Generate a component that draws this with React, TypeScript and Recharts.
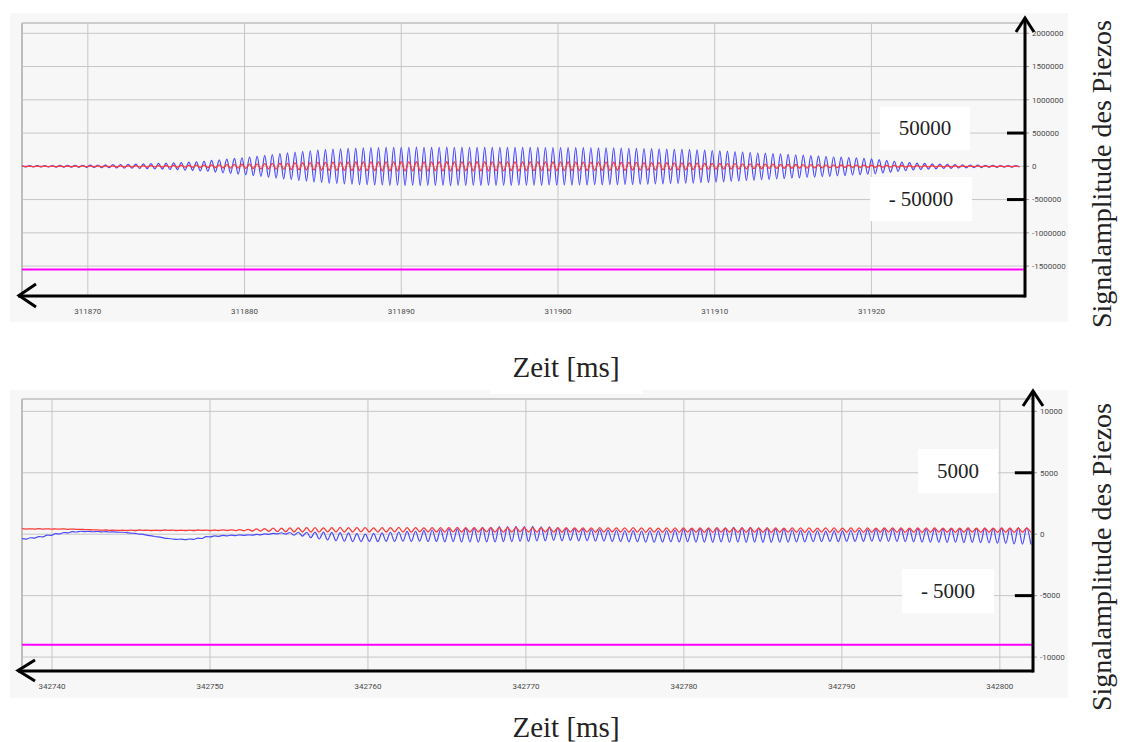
import React from 'react';
import { LineChart, Line, XAxis, YAxis, CartesianGrid, ReferenceLine } from 'recharts';

// --- upper recording (values in thousands) ---
const topStart = 311865.8;
const topHalfPeriod = 0.242;
const topUnit = 1000;
const topXTicks = [311870, 311880, 311890, 311900, 311910, 311920];
const topYTicks = [-1500000, -1000000, -500000, 0, 500000, 1000000, 1500000, 2000000];
const topMagenta = -1550000;

const topBluePeaks = [
  8, 9, 10, 11, 12, 13, 14, 15, 16,
  18, 20, 22, 24, 27, 30, 33, 36, 39,
  43, 47, 52, 57, 62, 68, 75,
  88, 97, 107, 118, 129, 140, 152, 165, 178,
  190, 202, 213, 224, 234, 243, 251, 258, 264, 270,
  274, 278, 281, 283, 285, 286, 287, 287, 288, 287, 286, 287, 288, 287, 286, 287, 286, 285, 286, 287, 286, 285,
  284, 285, 284, 283, 282, 283, 282, 281, 280, 279, 278, 277, 276, 274, 272, 270, 268, 266, 263, 260, 257, 254,
  251, 247, 243, 238, 233, 228, 222, 216, 210, 204,
  198, 192, 186, 180, 174, 168, 162, 156, 150,
  144, 138, 132, 126, 119, 112,
  100, 88, 76, 64,
  56, 49, 43, 38, 33, 29, 26,
  23, 20, 18, 16, 14, 12, 11, 10,
];
const topBlueTroughs = [
  -7, -9, -10, -10, -12, -12, -14, -15, -15,
  -17, -20, -21, -25, -27, -29, -33, -35, -40,
  -42, -48, -51, -58, -61, -69, -74,
  -86, -98, -106, -119, -128, -141, -151, -166, -177,
  -191, -201, -214, -223, -235, -242, -252, -257, -265, -269,
  -275, -277, -282, -282, -286, -285, -288, -286, -289, -286, -287, -286, -289, -286, -287, -286, -287, -284, -287, -286, -287, -284,
  -285, -284, -285, -282, -283, -282, -283, -280, -281, -278, -279, -276, -277, -273, -273, -269, -269, -265, -264, -259, -258, -253,
  -252, -246, -244, -237, -234, -227, -223, -215, -211, -203,
  -199, -191, -187, -179, -175, -167, -163, -155, -151,
  -143, -139, -131, -127, -118, -113,
  -99, -89, -75, -65,
  -55, -50, -42, -39, -32, -30, -25,
  -24, -19, -19, -15, -15, -11, -12, -9,
];
const topRedPeaks = [
  3, 3, 4, 4, 4, 5, 5, 5, 6,
  6, 6, 7, 7, 8, 8, 9, 9, 10,
  11, 12, 13, 14, 15, 17, 19,
  21, 23, 25, 28, 31, 34, 37, 40, 43,
  46, 49, 52, 54, 56, 58, 60, 62, 63, 64,
  65, 66, 67, 67, 68, 68, 69, 68, 69, 68, 67, 68, 69, 68, 67, 68, 69, 68, 67, 68, 67, 68,
  67, 66, 67, 66, 65, 66, 65, 64, 64, 63, 62, 62, 61, 60, 59, 58, 57, 56, 55, 54, 53, 52,
  50, 48, 46, 44, 42, 41, 40, 38, 36, 35,
  33, 32, 30, 29, 27, 26, 25, 24, 22,
  21, 20, 19, 18, 17, 16,
  15, 14, 13, 12,
  11, 10, 9, 9, 8, 8, 7,
  7, 6, 6, 5, 5, 5, 4, 4,
];
const topRedTroughs = [
  -3, -4, -3, -4, -5, -4, -5, -6, -5,
  -6, -7, -6, -8, -7, -9, -8, -10, -9,
  -11, -12, -14, -13, -16, -16, -19,
  -20, -23, -26, -27, -31, -33, -37, -39, -43,
  -45, -49, -51, -54, -55, -58, -59, -62, -62, -64,
  -64, -66, -66, -67, -67, -68, -68, -68, -68, -68, -66, -68, -68, -68, -66, -68, -68, -68, -66, -68, -66, -68,
  -66, -66, -66, -66, -64, -66, -64, -64, -63, -63, -61, -62, -60, -60, -58, -58, -56, -56, -54, -54, -52, -52,
  -49, -48, -45, -44, -41, -41, -39, -38, -35, -35,
  -32, -32, -29, -29, -26, -26, -24, -24, -21,
  -21, -19, -19, -17, -17, -15,
  -15, -13, -13, -11,
  -11, -9, -9, -8, -8, -7, -7,
  -6, -6, -5, -5, -5, -4, -4, -3,
];

// --- lower recording ---
const bottomStart = 342738.1;
const bottomHalfPeriod = 0.265;
const bottomUnit = 1;
const bottomXTicks = [342740, 342750, 342760, 342770, 342780, 342790, 342800];
const bottomYTicks = [-10000, -5000, 0, 5000, 10000];
const bottomMagenta = -9000;

const bottomBluePeaks = [
  -360, -290, -190, -70, 40, 140, 210, 240, 230, 220,
  210, 190, 160, 90, 10, -100, -210, -320, -390, -400,
  -390, -320, -190, -140, -100, -80, -60, -50, -20, 20,
  60, 120, 140, 160, 160, 170, 170, 150, 130, 100,
  40, 10, 70, 100, 160, 180, 230, 240, 290, 340,
  380, 430, 440, 490, 500, 560, 560, 610, 620, 640,
  620, 640, 600, 590, 510, 480, 430, 420, 370, 370,
  330, 320, 280, 290, 260, 280, 270, 300, 330, 410,
  420, 450, 450, 510, 520, 560, 540, 560, 520, 510,
  440, 410, 340, 310, 260, 280, 250, 270, 270, 300,
  310, 370, 390, 440, 430, 450, 440, 450, 420, 440,
  430, 460, 450, 480, 470, 490, 470, 500, 490, 530,
  520,
];
const bottomBlueTroughs = [
  -400, -320, -220, -100, 20, 110, 180, 210, 200, 190,
  180, 160, 130, 60, -20, -130, -240, -350, -420, -440,
  -420, -350, -220, -170, -130, -110, -90, -80, -50, -10,
  30, 0, -80, -160, -280, -390, -470, -530, -570, -600,
  -600, -590, -600, -580, -590, -570, -590, -570, -600, -590,
  -620, -600, -630, -620, -650, -620, -630, -600, -610, -570,
  -590, -550, -540, -510, -530, -510, -540, -530, -560, -550,
  -590, -590, -620, -620, -640, -650, -640, -620, -630, -600,
  -640, -640, -660, -630, -650, -640, -660, -640, -660, -650,
  -650, -640, -630, -620, -600, -600, -590, -600, -580, -590,
  -580, -570, -580, -590, -590, -610, -620, -640, -650, -650,
  -670, -650, -680, -660, -690, -700, -730, -740, -790, -800,
  -830, -810, -850, -860, -900, -950,
];
const bottomRedPeaks = [
  450, 440, 450, 440, 430, 440, 420, 400, 370, 350,
  340, 330, 320, 330, 340, 330, 320, 340, 330, 320,
  330, 340, 330, 340, 350, 360, 380, 400, 430, 460,
  490, 500, 510, 520, 530, 540, 520, 530, 550, 540,
  530, 540, 520, 530, 540, 550, 530, 540, 520, 530,
  540, 530, 550, 540, 530, 520, 540, 530, 540, 550,
  540, 530, 520, 530, 540, 530, 520, 510, 520, 530,
  520, 510, 520, 530, 520, 510, 500, 510, 520, 510,
  500, 510, 520, 510, 500, 510, 520, 510, 500, 520,
  510, 500, 510, 520, 510, 500, 520, 510, 500, 510,
  520, 510, 500, 510, 520, 510, 500, 510, 520, 510,
  500, 490, 500, 510, 500, 490, 500, 510, 500, 490,
  500,
];
const bottomRedTroughs = [
  420, 420, 410, 420, 410, 400, 400, 380, 350, 330,
  310, 300, 300, 300, 310, 300, 300, 310, 300, 300,
  300, 310, 300, 300, 300, 290, 280, 260, 250, 230,
  210, 190, 180, 180, 180, 170, 190, 180, 170, 180,
  190, 180, 170, 180, 190, 180, 170, 190, 180, 170,
  180, 190, 180, 170, 180, 190, 180, 170, 180, 190,
  180, 170, 180, 170, 160, 170, 180, 170, 160, 170,
  180, 170, 160, 170, 160, 170, 160, 150, 160, 170,
  160, 150, 160, 170, 160, 150, 160, 170, 160, 150,
  160, 170, 160, 150, 160, 170, 160, 150, 160, 170,
  160, 150, 160, 170, 160, 150, 160, 150, 160, 170,
  160, 150, 160, 170, 150, 160, 150, 160, 150, 160,
  150,
];

type Row = { t: number; blue?: number; red?: number };

function buildRows(
  start: number,
  half: number,
  unit: number,
  bluePeaks: number[],
  blueTroughs: number[],
  redPeaks: number[],
  redTroughs: number[],
): Row[] {
  const rows: Row[] = [];
  bluePeaks.forEach((bp, i) => {
    rows.push({ t: start + 2 * i * half, blue: bp * unit, red: (redPeaks[i] ?? 0) * unit });
    if (blueTroughs[i] !== undefined) {
      rows.push({
        t: start + (2 * i + 1) * half,
        blue: blueTroughs[i] * unit,
        red: (redTroughs[i] ?? 0) * unit,
      });
    }
  });
  return rows;
}

const topRows = buildRows(topStart, topHalfPeriod, topUnit, topBluePeaks, topBlueTroughs, topRedPeaks, topRedTroughs);
const bottomRows = buildRows(
  bottomStart,
  bottomHalfPeriod,
  bottomUnit,
  bottomBluePeaks,
  bottomBlueTroughs,
  bottomRedPeaks,
  bottomRedTroughs,
);

const tickStyle = { fill: '#4a4a4a', fontSize: 8, fontFamily: 'Roboto, sans-serif' };
const serif = '"Liberation Serif", "DejaVu Serif", serif';

interface PanelProps {
  rows: Row[];
  top: number;
  height: number;
  marginTop: number;
  xAxisHeight: number;
  yAxisWidth: number;
  xDomain: [number, number];
  yDomain: [number, number];
  xTicks: number[];
  yTicks: number[];
  magenta: number;
  markFrom: number;
  markValue: number;
}

function Panel(p: PanelProps) {
  return (
    <div style={{ position: 'absolute', left: 10, top: p.top, width: 1058, height: p.height, background: '#f7f7f7' }}>
      <LineChart
        width={1058}
        height={p.height}
        data={p.rows}
        margin={{ top: p.marginTop, right: 0, bottom: 0, left: 12 }}
      >
        <CartesianGrid stroke="#c6c6c6" strokeWidth={1} />
        <XAxis
          dataKey="t"
          type="number"
          domain={p.xDomain}
          ticks={p.xTicks}
          allowDataOverflow
          height={p.xAxisHeight}
          axisLine={false}
          tickLine={false}
          tickSize={4}
          tickMargin={8}
          tick={tickStyle}
        />
        <YAxis
          orientation="right"
          type="number"
          domain={p.yDomain}
          ticks={p.yTicks}
          allowDataOverflow
          width={p.yAxisWidth}
          axisLine={false}
          tickLine={{ stroke: '#999' }}
          tickSize={4}
          tickMargin={3}
          tick={tickStyle}
        />
        <ReferenceLine x={p.xDomain[0]} stroke="#bdbdbd" strokeWidth={2} />
        <ReferenceLine y={p.yDomain[1]} stroke="#c6c6c6" strokeWidth={1.5} />
        <ReferenceLine y={p.magenta} stroke="#ff00ff" strokeWidth={2} />
        <Line type="monotone" dataKey="blue" stroke="#4a4aff" strokeWidth={1.2} dot={false} isAnimationActive={false} />
        <Line type="monotone" dataKey="red" stroke="#ff3a3a" strokeWidth={1.3} dot={false} isAnimationActive={false} />
        <ReferenceLine
          segment={[{ x: p.markFrom, y: p.markValue }, { x: p.xDomain[1], y: p.markValue }]}
          stroke="#000"
          strokeWidth={3}
        />
        <ReferenceLine
          segment={[{ x: p.markFrom, y: -p.markValue }, { x: p.xDomain[1], y: -p.markValue }]}
          stroke="#000"
          strokeWidth={3}
        />
      </LineChart>
    </div>
  );
}

function Box({ left, top, width, height, text }: { left: number; top: number; width: number; height: number; text: string }) {
  return (
    <div
      style={{
        position: 'absolute',
        left,
        top,
        width,
        height,
        background: '#fff',
        display: 'flex',
        alignItems: 'center',
        justifyContent: 'center',
        fontFamily: serif,
        fontSize: 21,
        color: '#222',
      }}
    >
      {text}
    </div>
  );
}

export default function App() {
  return (
    <div style={{ position: 'absolute', left: 0, top: 0, width: 1124, height: 742, background: '#fff', overflow: 'hidden' }}>
      <Panel
        rows={topRows}
        top={13}
        height={309}
        marginTop={10}
        xAxisHeight={26}
        yAxisWidth={43}
        xDomain={[311865.8, 311929.8]}
        yDomain={[-1950000, 2155000]}
        xTicks={topXTicks}
        yTicks={topYTicks}
        magenta={topMagenta}
        markFrom={311928.65}
        markValue={500000}
      />
      <Panel
        rows={bottomRows}
        top={390}
        height={308}
        marginTop={9}
        xAxisHeight={27}
        yAxisWidth={35}
        xDomain={[342738.1, 342802.1]}
        yDomain={[-11135, 11005]}
        xTicks={bottomXTicks}
        yTicks={bottomYTicks}
        magenta={bottomMagenta}
        markFrom={342800.95}
        markValue={5000}
      />

      <div style={{ position: 'absolute', left: 490, top: 388, width: 153, height: 6, background: '#fff' }} />

      <Box left={880} top={107} width={90} height={43} text="50000" />
      <Box left={870} top={177} width={102} height={44} text="- 50000" />
      <Box left={918} top={449} width={80} height={44} text="5000" />
      <Box left={902} top={569} width={92} height={44} text="- 5000" />

      <svg width={1124} height={742} style={{ position: 'absolute', left: 0, top: 0, pointerEvents: 'none' }}>
        <g stroke="#000" strokeWidth={3} fill="none" strokeLinecap="butt">
          <line x1={18} y1={296} x2={1025} y2={296} />
          <line x1={1025} y1={297.5} x2={1025} y2={18} />
          <polyline points="36,284 19,295.5 36,307" />
          <polyline points="1016,32 1025,18 1034,32" />
          <line x1={18} y1={671} x2={1033} y2={671} />
          <line x1={1033} y1={672.5} x2={1033} y2={391} />
          <polyline points="35,660 18,670.5 35,681" />
          <polyline points="1023,406 1033,391 1043,406" />
        </g>
        <g fontFamily={serif} fontSize={28} fill="#222" textAnchor="middle">
          <text x={1111} y={174} transform="rotate(-90 1111 174)">Signalamplitude des Piezos</text>
          <text x={1111} y={557} transform="rotate(-90 1111 557)">Signalamplitude des Piezos</text>
        </g>
        <g fontFamily={serif} fontSize={29} fill="#222" textAnchor="middle">
          <text x={566} y={377}>Zeit [ms]</text>
          <text x={566} y={737}>Zeit [ms]</text>
        </g>
      </svg>
    </div>
  );
}
